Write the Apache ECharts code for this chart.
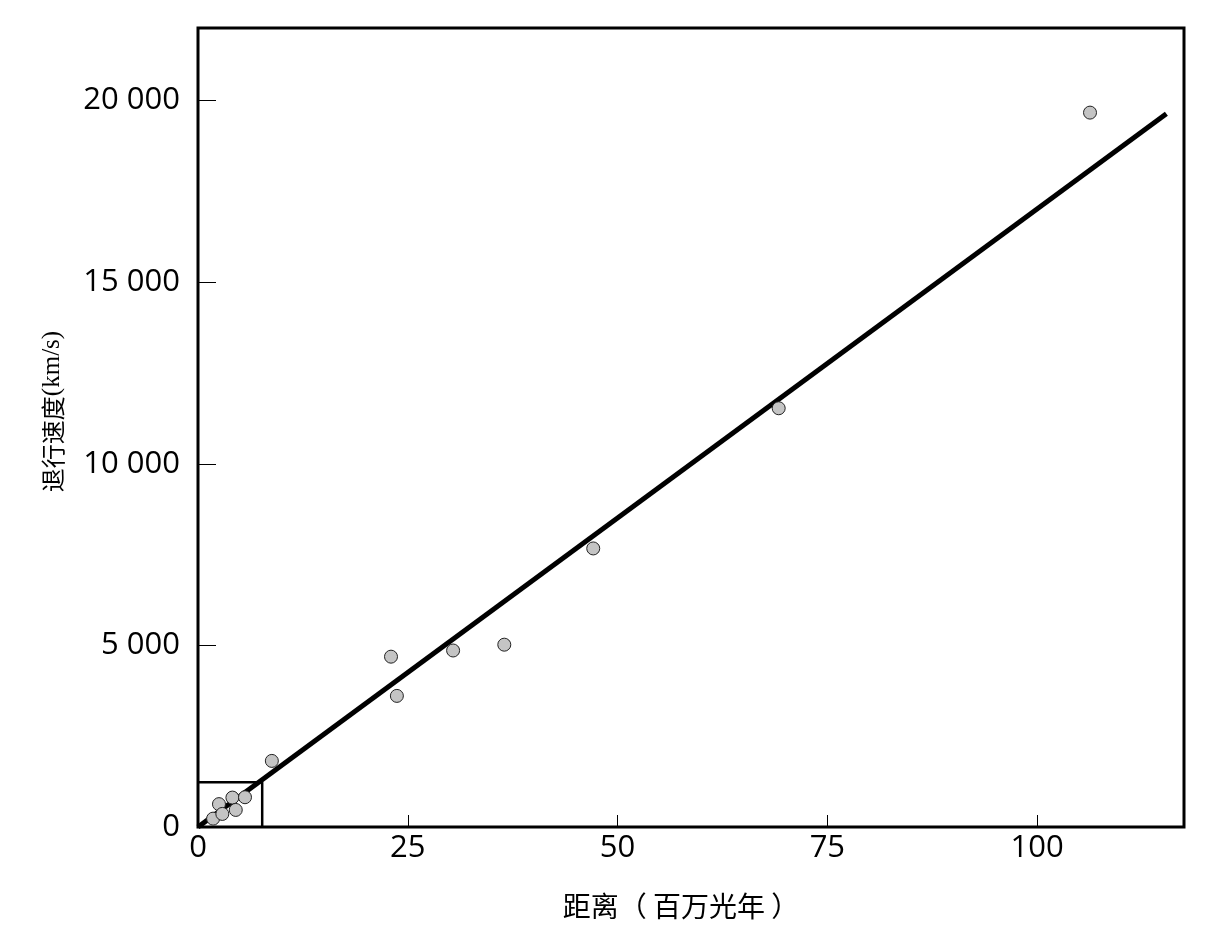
<!DOCTYPE html>
<html>
<head>
<meta charset="utf-8">
<script src="https://cdn.jsdelivr.net/npm/echarts@6/dist/echarts.min.js"></script>
<style>
  html, body { margin: 0; padding: 0; background: #fff; }
  #chart { width: 1217px; height: 951px; }
</style>
</head>
<body>
<div id="chart"></div>
<script>
// 星系距离（百万光年）与退行速度（km/s）
var distance = [1.8, 2.5, 2.9, 4.1, 4.5, 5.6, 8.8, 23.0, 23.7, 30.4, 36.5, 47.1, 69.2, 106.3]
var velocity = [230, 630, 360, 810, 470, 820, 1820, 4690, 3610, 4860, 5020, 7670, 11530, 19670]
// 拟合直线两端
var fitX = [0, 115.4]
var fitY = [0, 19640]
// 左下角小方框
var boxX = [0, 7.65, 7.65]
var boxY = [1230, 1230, 0]

var xTicks = [0, 25, 50, 75, 100]
var yTicks = [0, 5000, 10000, 15000, 20000]

function zip(a, b) {
  var out = []
  for (var i = 0; i < a.length; i++) out.push([a[i], b[i]])
  return out
}
function fmtNum(v) {
  var s = String(v)
  return s.length > 3 ? s.slice(0, s.length - 3) + ' ' + s.slice(-3) : s
}

var chart = echarts.init(document.getElementById('chart'))
var labelFont = { color: '#000', fontSize: 31, fontWeight: 500, fontFamily: 'Open Sans' }
chart.setOption({
  animation: false,
  backgroundColor: '#fff',
  grid: {
    left: 198, top: 28, right: 33, bottom: 124,
    show: true, borderColor: '#000', borderWidth: 3, backgroundColor: 'transparent'
  },
  xAxis: {
    type: 'value', min: 0, max: 117.5, interval: 25,
    name: '距离（ 百万光年 ）', nameLocation: 'middle', nameGap: 65,
    nameTextStyle: { color: '#000', fontSize: 28, fontFamily: 'Noto Sans CJK SC', padding: [0, 20, 0, 0] },
    axisLine: { show: false },
    axisTick: { show: true, inside: true, length: 12, lineStyle: { color: '#000', width: 1 } },
    axisLabel: Object.assign({ margin: 6, showMaxLabel: false,
      formatter: function (v) { return xTicks.indexOf(v) >= 0 ? fmtNum(v) : '' } }, labelFont),
    splitLine: { show: false }
  },
  yAxis: {
    type: 'value', min: 0, max: 22000, interval: 5000,
    name: '{a|退行速度}{b|(km/s)}', nameLocation: 'middle', nameGap: 133, nameRotate: 90,
    nameTextStyle: {
      padding: [0, 0, 0, 32],
      rich: {
        a: { color: '#000', fontSize: 24, fontFamily: 'Noto Sans CJK SC' },
        b: { color: '#000', fontSize: 25, fontFamily: 'Liberation Serif' }
      }
    },
    axisLine: { show: false },
    axisTick: { show: true, inside: true, length: 18, lineStyle: { color: '#000', width: 1 } },
    axisLabel: Object.assign({ margin: 18, showMaxLabel: false,
      formatter: function (v) { return yTicks.indexOf(v) >= 0 ? fmtNum(v) : '' } }, labelFont),
    splitLine: { show: false }
  },
  series: [
    {
      type: 'line', data: zip(boxX, boxY), symbol: 'none', z: 1,
      lineStyle: { color: '#000', width: 2.5 }
    },
    {
      type: 'line', data: zip(fitX, fitY), symbol: 'none', z: 2,
      lineStyle: { color: '#000', width: 5 }
    },
    {
      type: 'scatter', data: zip(distance, velocity), symbolSize: 13, z: 3,
      itemStyle: { color: '#c4c4c4', borderColor: '#222', borderWidth: 1, opacity: 1 }
    }
  ]
})
</script>
</body>
</html>
